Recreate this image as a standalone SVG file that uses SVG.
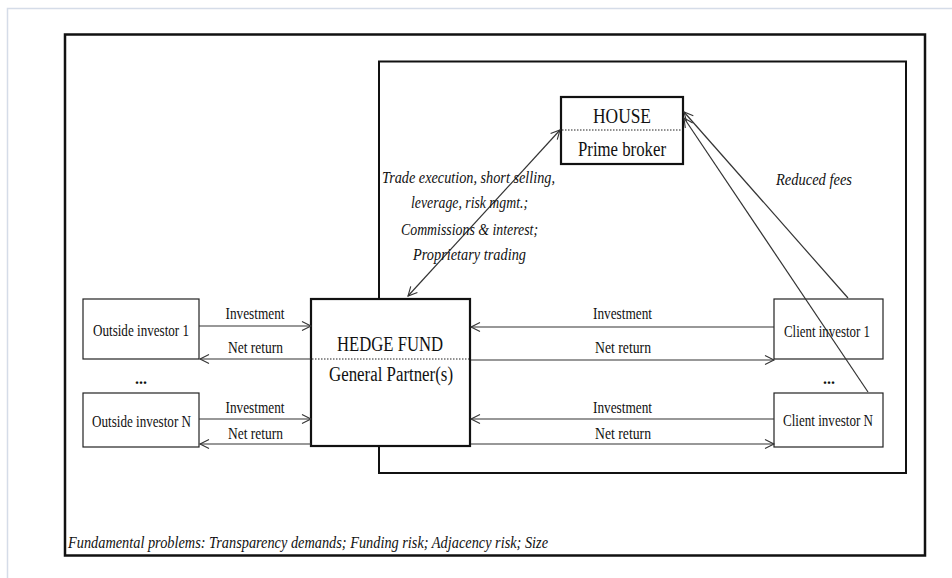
<svg xmlns="http://www.w3.org/2000/svg" width="952" height="578" viewBox="0 0 952 578">
<defs>
<marker id="ah" markerWidth="12" markerHeight="12" refX="10" refY="6" orient="auto-start-reverse" markerUnits="userSpaceOnUse">
<path d="M1,1.5 L10,6 L1,10.5" fill="none" stroke="#333" stroke-width="1.1"/>
</marker>
<style>
.t{font-family:"Liberation Serif","Times New Roman",serif;fill:#111;text-anchor:middle}
.i{font-style:italic}
.box{fill:#fff;stroke:#222;stroke-width:1.2}
.tbox{fill:#fff;stroke:#111;stroke-width:2.2}
.dot{stroke:#222;stroke-width:1;stroke-dasharray:1.5 1.5}
.c{stroke:#333;stroke-width:1.2;fill:none}
</style>
</defs>
<rect width="952" height="578" fill="#fff"/>
<path d="M7.5,578 V8.5 H952" fill="none" stroke="#d5dce8" stroke-width="1.5"/>
<rect id="outer" x="65" y="34.5" width="860" height="521" fill="none" stroke="#111" stroke-width="2.5"/>
<rect id="inner" x="379" y="61.5" width="527" height="411.5" fill="none" stroke="#111" stroke-width="2"/>
<g id="house">
<rect class="tbox" x="561" y="97" width="122" height="67"/>
<line class="dot" x1="562" y1="130" x2="682" y2="130"/>
<text class="t" x="622" y="123" font-size="20" textLength="58" lengthAdjust="spacingAndGlyphs">HOUSE</text>
<text class="t" x="622" y="156" font-size="20" textLength="88" lengthAdjust="spacingAndGlyphs">Prime broker</text>
</g>
<g id="hedgefund">
<rect class="tbox" x="311" y="299" width="159" height="147"/>
<line class="dot" x1="312" y1="359" x2="469" y2="359"/>
<text class="t" x="390" y="351" font-size="20" textLength="106" lengthAdjust="spacingAndGlyphs">HEDGE FUND</text>
<text class="t" x="391" y="381" font-size="20" textLength="124" lengthAdjust="spacingAndGlyphs">General Partner(s)</text>
</g>
<g id="outside1">
<rect class="box" x="83" y="299" width="116" height="60"/>
<text class="t" x="141" y="336" font-size="17" textLength="96" lengthAdjust="spacingAndGlyphs">Outside investor 1</text>
</g>
<g id="outsideN">
<rect class="box" x="83" y="393" width="116" height="54"/>
<text class="t" x="141.5" y="427" font-size="17" textLength="99" lengthAdjust="spacingAndGlyphs">Outside investor N</text>
</g>
<g id="client1">
<rect class="box" x="774" y="299" width="109" height="60"/>
<text class="t" x="827" y="337" font-size="17" textLength="86" lengthAdjust="spacingAndGlyphs">Client investor 1</text>
</g>
<g id="clientN">
<rect class="box" x="774" y="393" width="109" height="54"/>
<text class="t" x="828" y="426" font-size="17" textLength="90" lengthAdjust="spacingAndGlyphs">Client investor N</text>
</g>
<g id="connectors">
<line class="c" x1="199" y1="326" x2="311" y2="326" marker-end="url(#ah)"/>
<line class="c" x1="311" y1="359" x2="200" y2="359" marker-end="url(#ah)"/>
<line class="c" x1="199" y1="419" x2="311" y2="419" marker-end="url(#ah)"/>
<line class="c" x1="311" y1="444" x2="200" y2="444" marker-end="url(#ah)"/>
<line class="c" x1="774" y1="327" x2="471" y2="327" marker-end="url(#ah)"/>
<line class="c" x1="471" y1="360" x2="774" y2="360" marker-end="url(#ah)"/>
<line class="c" x1="774" y1="419" x2="471" y2="419" marker-end="url(#ah)"/>
<line class="c" x1="471" y1="444" x2="774" y2="444" marker-end="url(#ah)"/>
<line class="c" x1="408" y1="296" x2="560" y2="130" marker-start="url(#ah)" marker-end="url(#ah)"/>
<line class="c" x1="848" y1="298" x2="684" y2="112" marker-end="url(#ah)"/>
<line class="c" x1="868" y1="392" x2="684" y2="118" marker-end="url(#ah)"/>
</g>
<g id="labels">
<text class="t" x="141" y="384" font-size="16" font-weight="bold">...</text>
<text class="t" x="829" y="384" font-size="16" font-weight="bold">...</text>
<text class="t" x="255" y="319" font-size="16" textLength="59" lengthAdjust="spacingAndGlyphs">Investment</text>
<text class="t" x="255.5" y="353" font-size="16" textLength="55" lengthAdjust="spacingAndGlyphs">Net return</text>
<text class="t" x="255" y="413" font-size="16" textLength="59" lengthAdjust="spacingAndGlyphs">Investment</text>
<text class="t" x="255.5" y="439" font-size="16" textLength="55" lengthAdjust="spacingAndGlyphs">Net return</text>
<text class="t" x="622.5" y="319" font-size="16" textLength="59" lengthAdjust="spacingAndGlyphs">Investment</text>
<text class="t" x="623" y="353" font-size="16" textLength="56" lengthAdjust="spacingAndGlyphs">Net return</text>
<text class="t" x="622.5" y="413" font-size="16" textLength="59" lengthAdjust="spacingAndGlyphs">Investment</text>
<text class="t" x="623" y="439" font-size="16" textLength="56" lengthAdjust="spacingAndGlyphs">Net return</text>
<text class="t i" x="468.5" y="183" font-size="17" textLength="173" lengthAdjust="spacingAndGlyphs">Trade execution, short selling,</text>
<text class="t i" x="469.5" y="208" font-size="17" textLength="117" lengthAdjust="spacingAndGlyphs">leverage, risk mgmt.;</text>
<text class="t i" x="469.5" y="235" font-size="17" textLength="137" lengthAdjust="spacingAndGlyphs">Commissions &amp; interest;</text>
<text class="t i" x="469.5" y="260" font-size="17" textLength="113" lengthAdjust="spacingAndGlyphs">Proprietary trading</text>
<text class="t i" x="814" y="185" font-size="17" textLength="76" lengthAdjust="spacingAndGlyphs">Reduced fees</text>
<text class="t i" x="68" y="548" font-size="17" style="text-anchor:start" textLength="480" lengthAdjust="spacingAndGlyphs">Fundamental problems: Transparency demands; Funding risk; Adjacency risk; Size</text>
</g>
</svg>
